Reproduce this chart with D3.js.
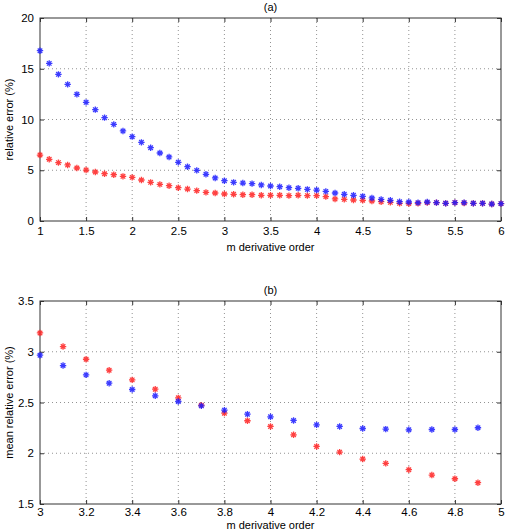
<!DOCTYPE html>
<html>
<head>
<meta charset="utf-8">
<script src="https://cdn.jsdelivr.net/npm/d3@7"></script>
<style>
  body { margin: 0; background: #fff; }
  svg { display: block; font-family: "Liberation Sans", Arial, sans-serif; }
  .grid line { stroke: #777; stroke-dasharray: 1,3; stroke-width: 0.8; }
</style>
</head>
<body>
<svg id="chart" width="506" height="529"></svg>
<script>
// panel (a): full range of m
var mA = d3.range(10, 61).map(function (i) { return i / 10; });
var blueA = [16.78, 15.53, 14.45, 13.46, 12.48, 11.69, 10.97, 10.18, 9.52, 8.87,
  8.31, 7.75, 7.22, 6.70, 6.31, 5.78, 5.35, 4.99, 4.60, 4.24,
  3.97, 3.81, 3.74, 3.68, 3.55, 3.45, 3.38, 3.28, 3.22, 3.12,
  3.05, 2.92, 2.76, 2.63, 2.53, 2.43, 2.27, 2.13, 2.04, 1.90,
  1.87, 1.81, 1.87, 1.81, 1.74, 1.81, 1.81, 1.74, 1.74, 1.67, 1.71];
var redA = [6.50, 6.08, 5.75, 5.52, 5.22, 5.02, 4.83, 4.66, 4.56, 4.40,
  4.30, 4.04, 3.81, 3.61, 3.48, 3.28, 3.15, 2.99, 2.82, 2.76,
  2.66, 2.63, 2.59, 2.59, 2.53, 2.53, 2.53, 2.50, 2.53, 2.50,
  2.50, 2.40, 2.17, 2.13, 2.07, 2.04, 1.97, 1.90, 1.84, 1.74,
  1.71, 1.74, 1.81, 1.81, 1.74, 1.81, 1.77, 1.74, 1.74, 1.67, 1.71];

// panel (b): zoom on m = 3 .. 4.9
var mB = d3.range(30, 50).map(function (i) { return i / 10; });
var blueB = [2.966, 2.864, 2.772, 2.690, 2.628, 2.566, 2.510, 2.467, 2.425, 2.385,
  2.359, 2.323, 2.280, 2.264, 2.244, 2.238, 2.231, 2.234, 2.234, 2.251];
var redB = [3.185, 3.051, 2.926, 2.818, 2.723, 2.631, 2.546, 2.474, 2.395, 2.320,
  2.264, 2.182, 2.067, 2.011, 1.943, 1.900, 1.838, 1.785, 1.749, 1.710];

var xTicksA = [1, 1.5, 2, 2.5, 3, 3.5, 4, 4.5, 5, 5.5, 6];
var yTicksA = [0, 5, 10, 15, 20];
var xTicksB = [3, 3.2, 3.4, 3.6, 3.8, 4, 4.2, 4.4, 4.6, 4.8, 5];
var yTicksB = [1.5, 2, 2.5, 3, 3.5];

var svg = d3.select("#chart");

// asterisk marker like matlab '*'
function star(r) {
  var d = r * 0.7071;
  return "M" + (-r) + ",0L" + r + ",0M0," + (-r) + "L0," + r +
    "M" + (-d) + "," + (-d) + "L" + d + "," + d +
    "M" + (-d) + "," + d + "L" + d + "," + (-d);
}

function drawPanel(opt) {
  var x = d3.scaleLinear().domain(opt.xDomain).range([opt.left, opt.right]);
  var y = d3.scaleLinear().domain(opt.yDomain).range([opt.bottom, opt.top]);
  var g = svg.append("g");

  // dotted grid
  var grid = g.append("g").attr("class", "grid");
  grid.selectAll(".gx").data(opt.xTicks.slice(1, -1)).enter().append("line")
    .attr("x1", function (d) { return x(d); }).attr("x2", function (d) { return x(d); })
    .attr("y1", opt.top).attr("y2", opt.bottom);
  grid.selectAll(".gy").data(opt.yTicks.slice(1, -1)).enter().append("line")
    .attr("y1", function (d) { return y(d); }).attr("y2", function (d) { return y(d); })
    .attr("x1", opt.left).attr("x2", opt.right);

  // axes with inward ticks
  var fmtY = opt.fmtY;
  g.append("g").attr("transform", "translate(0," + opt.bottom + ")")
    .call(d3.axisBottom(x).tickValues(opt.xTicks).tickSize(-4).tickPadding(opt.xPad).tickFormat(d3.format("")))
    .call(function (s) { s.select(".domain").remove(); s.selectAll("text").attr("font-size", 11.5).attr("fill", "#000").attr("font-family", null); });
  g.append("g").attr("transform", "translate(0," + opt.top + ")")
    .call(d3.axisTop(x).tickValues(opt.xTicks).tickSize(-4).tickFormat(""))
    .call(function (s) { s.select(".domain").remove(); });
  g.append("g").attr("transform", "translate(" + opt.left + ",0)")
    .call(d3.axisLeft(y).tickValues(opt.yTicks).tickSize(-4).tickPadding(6).tickFormat(fmtY))
    .call(function (s) { s.select(".domain").remove(); s.selectAll("text").attr("font-size", 11.5).attr("fill", "#000").attr("font-family", null); });
  g.append("g").attr("transform", "translate(" + opt.right + ",0)")
    .call(d3.axisRight(y).tickValues(opt.yTicks).tickSize(-4).tickFormat(""))
    .call(function (s) { s.select(".domain").remove(); });
  g.selectAll(".tick line").attr("stroke", "#333");

  g.append("rect")
    .attr("x", opt.left).attr("y", opt.top)
    .attr("width", opt.right - opt.left).attr("height", opt.bottom - opt.top)
    .attr("fill", "none").attr("stroke", "#333").attr("stroke-width", 1);

  // series: red then blue
  [[opt.red, "#ff2020"], [opt.blue, "#1a1aff"]].forEach(function (s) {
    g.append("g").selectAll("path").data(opt.m).enter().append("path")
      .attr("transform", function (d, i) { return "translate(" + x(d) + "," + y(s[0][i]) + ")"; })
      .attr("d", star(3.2))
      .attr("stroke", s[1]).attr("stroke-width", 1.3).attr("fill", "none")
      .attr("opacity", 0.85);
  });

  // titles
  g.append("text").attr("x", (opt.left + opt.right) / 2).attr("y", opt.top - 7)
    .attr("text-anchor", "middle").attr("font-size", 11).text(opt.title);
  g.append("text").attr("x", (opt.left + opt.right) / 2).attr("y", opt.bottom + opt.xLabelGap)
    .attr("text-anchor", "middle").attr("font-size", 11).text("m derivative order");
  g.append("text")
    .attr("transform", "translate(" + (opt.left - 27) + "," + ((opt.top + opt.bottom) / 2) + ") rotate(-90)")
    .attr("text-anchor", "middle").attr("font-size", 11).text(opt.yLabel);
}

drawPanel({
  m: mA, blue: blueA, red: redA,
  xDomain: [1, 6], yDomain: [0, 20],
  xTicks: xTicksA, yTicks: yTicksA, fmtY: d3.format("d"),
  left: 40, right: 501, top: 18, bottom: 221, xLabelGap: 30, xPad: 6,
  title: "(a)", yLabel: "relative error (%)"
});

drawPanel({
  m: mB, blue: blueB, red: redB,
  xDomain: [3, 5], yDomain: [1.5, 3.5],
  xTicks: xTicksB, yTicks: yTicksB, fmtY: d3.format(""),
  left: 40, right: 501, top: 301, bottom: 504, xLabelGap: 24.5, xPad: 4,
  title: "(b)", yLabel: "mean relative error (%)"
});
</script>
</body>
</html>
